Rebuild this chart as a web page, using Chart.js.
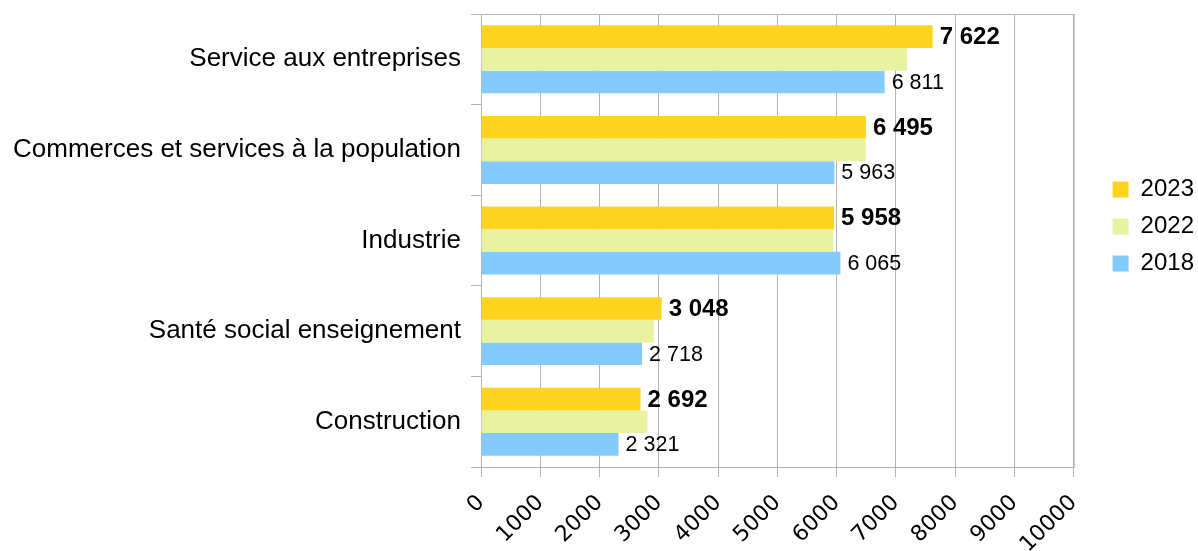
<!DOCTYPE html>
<html lang="fr">
<head>
  <meta charset="UTF-8" />
  <title>Secteurs</title>
  <script src="https://cdn.jsdelivr.net/npm/chart.js"></script>
  <style>
    html, body { margin: 0; padding: 0; background: #fff; }
    .chart-container { position: relative; width: 1198px; height: 551px; }
  </style>
</head>
<body>
  <div class="chart-container">
    <canvas id="chartSecteurs"></canvas>
  </div>

  <script>
    const categories = [
      "Service aux entreprises",
      "Commerces et services à la population",
      "Industrie",
      "Santé social enseignement",
      "Construction"
    ];
    const annees = ["2023", "2022", "2018"];
    const valeurs2023 = [7622, 6495, 5958, 3048, 2692];
    const valeurs2022 = [7190, 6490, 5945, 2915, 2810];
    const valeurs2018 = [6811, 5963, 6065, 2718, 2321];
    const ticksX = [0, 1000, 2000, 3000, 4000, 5000, 6000, 7000, 8000, 9000, 10000];

    const couleurGrille = "#b3b3b3";
    const police = "'Liberation Sans', Arial, sans-serif";

    function formatar(v) {
      return String(v).replace(/\B(?=(\d{3})+(?!\d))/g, " ");
    }

    // étiquettes de valeur au bout des barres (2023 en gras, 2018 normal)
    const etiquettes = {
      id: "etiquettes",
      afterDatasetsDraw(chart) {
        const ctx = chart.ctx;
        ctx.save();
        ctx.fillStyle = "#000";
        ctx.textBaseline = "middle";
        ctx.textAlign = "left";
        [[0, "bold 24px " + police], [2, "21.5px " + police]].forEach(([i, font]) => {
          const meta = chart.getDatasetMeta(i);
          ctx.font = font;
          meta.data.forEach((bar, j) => {
            ctx.fillText(formatar(chart.data.datasets[i].data[j]), bar.x + 7, bar.y + 1);
          });
        });
        ctx.restore();
      }
    };

    // cadre autour de la zone de tracé + légende décalée comme l'original
    const cadre = {
      id: "cadre",
      afterLayout(chart) {
        const lg = chart.legend;
        lg.left += 26; lg.right += 26;
        lg.top -= 56; lg.bottom -= 56;
      },
      beforeDatasetsDraw(chart) {
        const a = chart.chartArea;
        const ctx = chart.ctx;
        ctx.save();
        ctx.strokeStyle = couleurGrille;
        ctx.lineWidth = 1;
        ctx.strokeRect(a.left + 0.5, a.top + 0.5, a.right - a.left, a.bottom - a.top);
        ctx.restore();
      }
    };

    new Chart(document.getElementById("chartSecteurs"), {
      type: "bar",
      data: {
        labels: categories,
        datasets: [
          { label: annees[0], data: valeurs2023, backgroundColor: "#ffd320" },
          { label: annees[1], data: valeurs2022, backgroundColor: "#e8f2a1" },
          { label: annees[2], data: valeurs2018, backgroundColor: "#83caff" }
        ]
      },
      options: {
        indexAxis: "y",
        responsive: true,
        maintainAspectRatio: false,
        animation: false,
        categoryPercentage: 0.75,
        barPercentage: 1.0,
        layout: { padding: { top: 14, left: 0, right: 20, bottom: 0 } },
        scales: {
          x: {
            min: 0,
            max: 10000,
            afterBuildTicks(axis) { axis.ticks = ticksX.map(v => ({ value: v })); },
            afterFit(scale) { scale.height = 84; },
            grid: { color: couleurGrille, tickLength: 10 },
            border: { color: couleurGrille },
            ticks: {
              color: "#000",
              font: { family: "'DejaVu Sans', sans-serif", size: 22 },
              minRotation: 45,
              maxRotation: 45,
              padding: 13,
              callback: v => String(v)
            }
          },
          y: {
            afterFit(scale) {
              scale.width = 481;
              scale.paddingTop = 0;
              scale.paddingBottom = 0;
            },
            grid: { color: couleurGrille, drawOnChartArea: false, tickLength: 10 },
            border: { color: couleurGrille },
            ticks: {
              color: "#000",
              font: { family: police, size: 26 },
              padding: 10
            }
          }
        },
        plugins: {
          legend: {
            position: "right",
            labels: {
              color: "#000",
              font: { family: police, size: 24 },
              boxWidth: 16,
              boxHeight: 16,
              padding: 13
            }
          },
          tooltip: { enabled: false }
        }
      },
      plugins: [cadre, etiquettes]
    });
  </script>
</body>
</html>
